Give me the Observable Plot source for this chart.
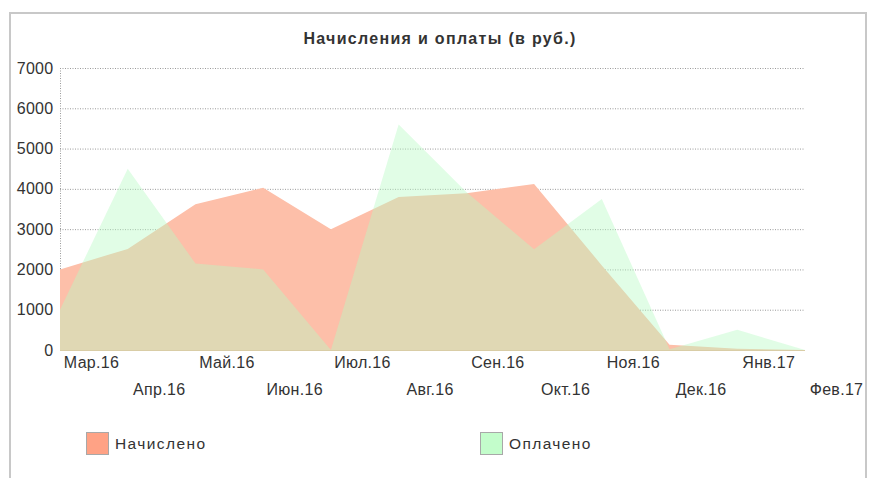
<!DOCTYPE html>
<html>
<head>
<meta charset="utf-8">
<script src="https://cdn.jsdelivr.net/npm/d3@7"></script>
<script src="https://cdn.jsdelivr.net/npm/@observablehq/plot@0.6"></script>
<style>
  html, body { margin: 0; padding: 0; background: #fff; }
  #wrap { position: relative; width: 870px; height: 478px; overflow: hidden; font-family: "Liberation Sans", Arial, sans-serif; }
  #frame { position: absolute; left: 9px; top: 12px; width: 854px; height: 480px; border: 2px solid #c8c8c8; border-bottom: none; }
  #title { position: absolute; left: 0; width: 880px; top: 30px; line-height: 18px; text-align: center; font-weight: bold; font-size: 16px; letter-spacing: 1.3px; color: #333; }
  #chart { position: absolute; left: 0; top: 0; }
  #chart svg text { letter-spacing: 0.3px; }
  .leg { position: absolute; top: 432px; font-size: 15.5px; letter-spacing: 1.4px; color: #333; display: flex; align-items: center; }
  .sw { width: 21px; height: 21px; border: 1px solid #a8a8a8; margin-right: 6px; }
</style>
</head>
<body>
<div id="wrap">
  <div id="frame"></div>
  <div id="chart"></div>
  <div id="title">Начисления и оплаты (в руб.)</div>
  <div class="leg" style="left:86px"><div class="sw" style="background:#ffa285"></div><span>Начислено</span></div>
  <div class="leg" style="left:480px"><div class="sw" style="background:#c3fdcb"></div><span>Оплачено</span></div>
</div>
<script>
const months = ["Мар.16","Апр.16","Май.16","Июн.16","Июл.16","Авг.16","Сен.16","Окт.16","Ноя.16","Дек.16","Янв.17","Фев.17"];
const accrued = [2000, 2510, 3620, 4030, 3000, 3800, 3890, 4120, 2100, 130, 30, 0];
const paid    = [1000, 4500, 2150, 2000, 0, 5600, 3920, 2500, 3750, 20, 500, 0];
const yTicks = [0, 1000, 2000, 3000, 4000, 5000, 6000, 7000];

const rows = months.map((m, i) => ({i, m, accrued: accrued[i], paid: paid[i]}));
const idx = months.map((_, i) => i);
const even = idx.filter(i => i % 2 === 0);
const odd = idx.filter(i => i % 2 === 1);

const chart = Plot.plot({
  width: 870,
  height: 420,
  marginLeft: 60,
  marginRight: 65,
  marginTop: 68,
  marginBottom: 70,
  style: {fontFamily: "Liberation Sans, Arial, sans-serif", fontSize: "16px", color: "#333", background: "transparent"},
  x: {type: "linear", domain: [0, months.length - 1], axis: null},
  y: {domain: [0, 7000], axis: null},
  marks: [
    Plot.gridY(yTicks, {stroke: "#9a9a9a", strokeOpacity: 1, strokeDasharray: "1,1.5"}),
    Plot.ruleX([0], {stroke: "#9a9a9a", strokeDasharray: "1,1.5"}),
    Plot.areaY(rows, {x: "i", y: "accrued", fill: "rgb(253,191,169)", curve: "linear"}),
    Plot.areaY(rows, {x: "i", y: "paid", fill: "rgb(183,250,195)", fillOpacity: 0.42, curve: "linear"}),
    Plot.ruleY([0], {stroke: "#d9cda6", strokeWidth: 1}),
    Plot.axisY({ticks: yTicks, tickSize: 0, tickPadding: 7, tickFormat: d => String(d), fontSize: 16, fill: "#333", label: null}),
    Plot.axisX({ticks: even, tickFormat: i => months[i], tickSize: 0, tickPadding: 6, dx: 31, fontSize: 16, fill: "#333", label: null}),
    Plot.axisX({ticks: odd, tickFormat: i => months[i], tickSize: 0, tickPadding: 33, dx: 31, fontSize: 16, fill: "#333", label: null})
  ]
});
document.getElementById("chart").appendChild(chart);
</script>
</body>
</html>
